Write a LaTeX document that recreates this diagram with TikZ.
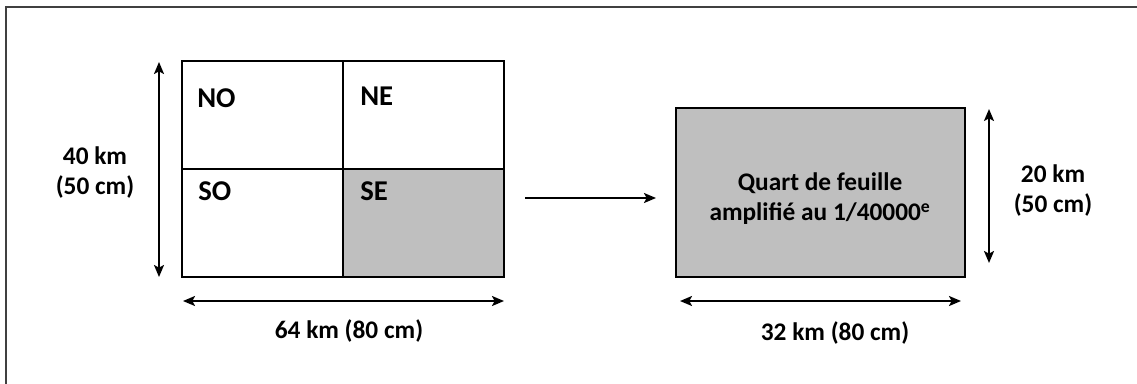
\documentclass[tikz,border=0pt]{standalone}
\usepackage{fontspec}
\setmainfont{Carlito}
\usetikzlibrary{arrows.meta}
\definecolor{gris}{HTML}{BFBFBF}

\begin{document}
\begin{tikzpicture}[
    x=0.75pt, y=-0.75pt,
    font=\fontsize{19}{22.5}\selectfont\bfseries,
    trait/.style={line width=1.5pt},
    cote/.style={line width=1.5pt, {Stealth[length=9pt,width=7.5pt,inset=2pt]}-{Stealth[length=9pt,width=7.5pt,inset=2pt]}},
    fleche/.style={line width=1.5pt, -{Stealth[length=9pt,width=7.5pt,inset=2pt]}},
    txt/.style={inner sep=0pt, align=center},
    quartier/.style={inner sep=0pt, anchor=west, font=\fontsize{21.5}{24}\selectfont\bfseries},
  ]

  \useasboundingbox (0,0) rectangle (1137,383);

  % ---- cadre (seuls les bords haut et gauche sont visibles) -----------------
  \draw[line width=1pt, black!75] (6,400) -- (6,7) -- (1150,7);

  % ---- feuille entiere, coupee en quatre ------------------------------------
  \fill[gris] (343,169) rectangle (504,277);
  \draw[trait] (182,61) rectangle (504,277);
  \draw[trait] (343,61) -- (343,277);
  \draw[trait] (182,169) -- (504,169);

  \node[quartier] (no) at (197,98)  {NO};
  \node[quartier] (ne) at (360,96)  {NE};
  \node[quartier] (so) at (198,191) {SO};
  \node[quartier] (se) at (360,191) {SE};

  % ---- cotes de la feuille entiere -------------------------------------------
  \coordinate (h1) at (159,62);
  \coordinate (h2) at (159,277);
  \draw[cote] (h1) -- (h2);
  \node[txt] (haut) at (95,173) {40 km\\(50 cm)};

  \coordinate (l1) at (183,301);
  \coordinate (l2) at (504,301);
  \draw[cote] (l1) -- (l2);
  \node[txt] (larg) at (349,331) {64 km (80 cm)};

  % ---- passage au quart de feuille -------------------------------------------
  \coordinate (p1) at (525,198);
  \coordinate (p2) at (656,198);
  \draw[fleche] (p1) -- (p2);

  \node[draw, trait, fill=gris, anchor=north west,
        minimum width=216.75pt, minimum height=126.75pt] (quart) at (675,107) {};
  \node[txt] (titre) at (820,199) {Quart de feuille\\amplifié au 1/40000\textsuperscript{e}};

  % ---- cotes du quart ---------------------------------------------------------
  \coordinate (qh1) at (989,109);
  \coordinate (qh2) at (989,263);
  \draw[cote] (qh1) -- (qh2);
  \node[txt] (qhaut) at (1053,191) {20 km\\(50 cm)};

  \coordinate (ql1) at (680,301);
  \coordinate (ql2) at (961,301);
  \draw[cote] (ql1) -- (ql2);
  \node[txt] (qlarg) at (835,333) {32 km (80 cm)};

\end{tikzpicture}
\end{document}
